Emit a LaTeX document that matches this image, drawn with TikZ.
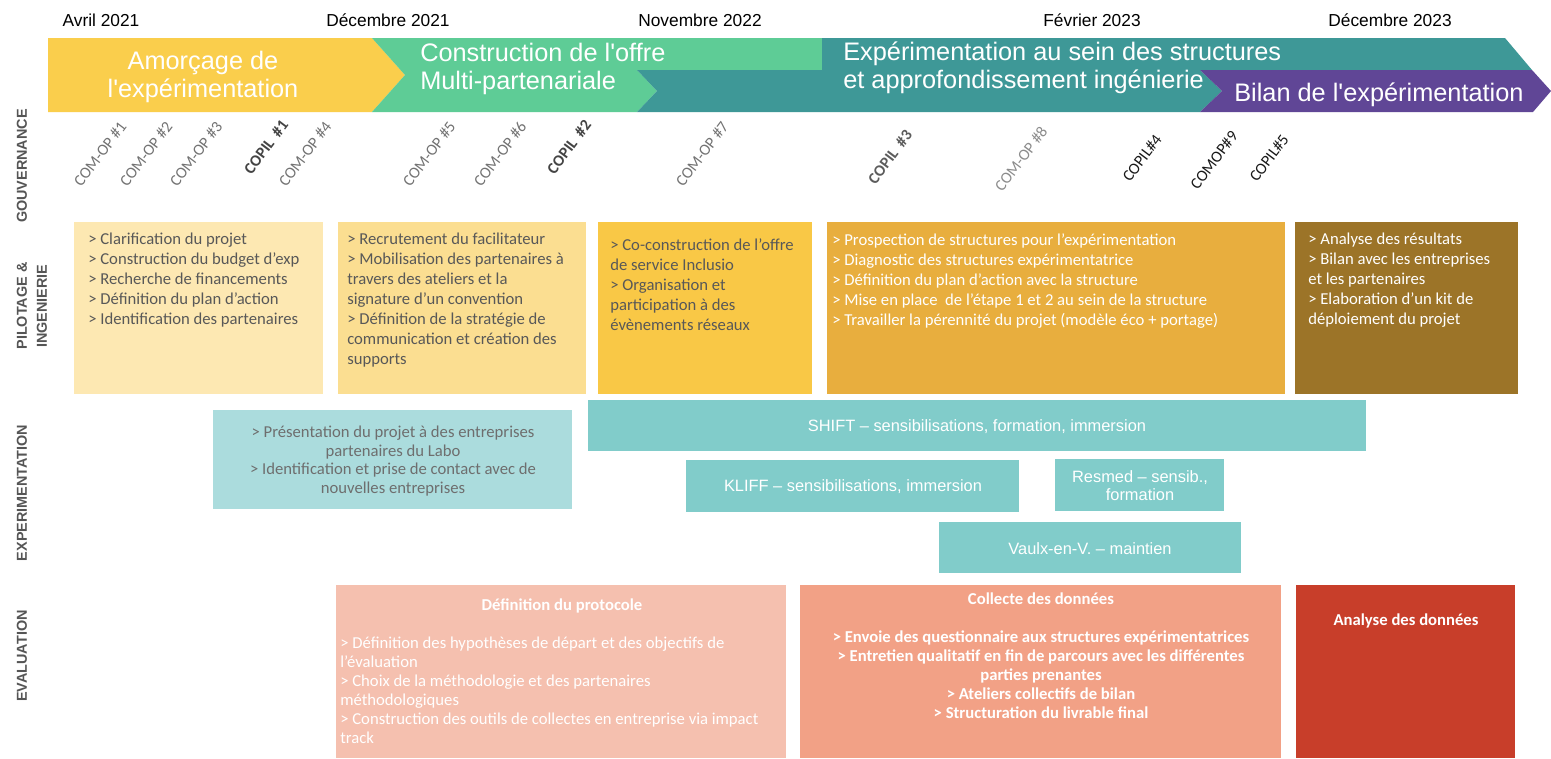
\documentclass[tikz,border=0pt]{standalone}
\usepackage{fontspec}
\setmainfont{Liberation Sans}
\newfontfamily\calib{Carlito}
\definecolor{bYel}{RGB}{250,206,76}
\definecolor{bGrn}{RGB}{94,204,150}
\definecolor{bTeal}{RGB}{62,152,151}
\definecolor{bPur}{RGB}{96,70,150}
\definecolor{p1}{RGB}{253,232,178}
\definecolor{p2}{RGB}{251,222,145}
\definecolor{p3}{RGB}{249,200,70}
\definecolor{p4}{RGB}{232,174,62}
\definecolor{p5}{RGB}{156,116,40}
\definecolor{eA}{RGB}{171,220,221}
\definecolor{eB}{RGB}{129,204,202}
\definecolor{v1}{RGB}{245,192,175}
\definecolor{v2}{RGB}{242,161,134}
\definecolor{v3}{RGB}{200,62,42}
\definecolor{govgray}{RGB}{115,115,115}
\definecolor{govdark}{RGB}{68,68,68}
\definecolor{govlight}{RGB}{140,140,140}
\definecolor{govblack}{RGB}{25,25,25}
\definecolor{labgray}{RGB}{85,85,85}
\definecolor{txtgray}{RGB}{88,88,88}
\definecolor{expgray}{RGB}{110,110,110}
\tikzset{
  btxt/.style={text=white, inner sep=0pt, font=\fontsize{19}{20.8}\selectfont},
  datelab/.style={inner sep=0pt, font=\fontsize{13}{15}\selectfont},
  gov/.style={rotate=53, inner sep=0pt, text=govgray, font=\calib\fontsize{12}{14}\selectfont},
  govb/.style={gov, text=govdark, font=\calib\bfseries\fontsize{12}{14}\selectfont},
  rowlab/.style={rotate=90, inner sep=0pt, align=center, text=labgray, font=\bfseries\fontsize{10.8}{15}\selectfont},
  ptxt/.style={anchor=north west, align=left, inner sep=0pt, font=\calib\fontsize{12.5}{15}\selectfont},
  etxt/.style={align=center, inner sep=0pt, text=expgray, font=\calib\fontsize{12.5}{14}\selectfont},
  stxt/.style={align=center, inner sep=0pt, text=white, font=\fontsize{12.3}{13.5}\selectfont},
  vtxt/.style={inner sep=0pt, text=white, font=\calib\fontsize{12.5}{14.25}\selectfont},
  vtxtb/.style={vtxt, font=\calib\bfseries\fontsize{12.5}{14.25}\selectfont},
}
\begin{document}
\begin{tikzpicture}[x=0.75pt,y=-0.75pt]
\useasboundingbox (0,0) rectangle (1551,758);
\fill[white] (0,0) rectangle (1551,758);
% banner
\fill[bYel] (48,38) -- (372,38) -- (405,75) -- (372,112) -- (48,112) -- cycle;
\fill[bGrn] (372,38) -- (822,38) -- (822,70) -- (637,70) -- (657,91) -- (637,112) -- (372,112) -- (405,75) -- cycle;
\fill[bTeal] (822,38) -- (1505,38) -- (1532,70) -- (1200,70) -- (1222,91) -- (1200,112) -- (637,112) -- (657,91) -- (637,70) -- (822,70) -- cycle;
\fill[bPur] (1200,70) -- (1532,70) -- (1551,91) -- (1533,112) -- (1200,112) -- (1222,91) -- cycle;
\node[btxt, align=center] (ph1) at (203,77) {Amorçage de\\l\textquotesingle expérimentation};
\node[btxt, align=left, anchor=west] (ph2) at (420,69) {Construction de l\textquotesingle offre\\Multi-partenariale};
\node[btxt, align=left, anchor=west] (ph3) at (843,68) {Expérimentation au sein des structures\\et approfondissement ingénierie};
\node[btxt, anchor=west] (ph4) at (1234,95) {Bilan de l\textquotesingle expérimentation};
% dates
\node[datelab] (d1) at (101,20) {Avril 2021};
\node[datelab] (d2) at (388,20) {Décembre 2021};
\node[datelab] (d3) at (700,20) {Novembre 2022};
\node[datelab] (d4) at (1092,20) {Février 2023};
\node[datelab] (d5) at (1390,20) {Décembre 2023};
% row labels
\node[rowlab] (r1) at (22,166) {GOUVERNANCE};
\node[rowlab] (r2) at (32,306) {PILOTAGE \&\\INGENIERIE};
\node[rowlab] (r3) at (22,493) {EXPERIMENTATION};
\node[rowlab] (r4) at (22,656) {EVALUATION};
% governance
\node[gov] (g1) at (100,154) {COM-OP \#1};
\node[gov] (g2) at (146,154) {COM-OP \#2};
\node[gov] (g3) at (196,154) {COM-OP \#3};
\node[govb] (g4) at (266,147) {COPIL\ \ \#1};
\node[gov] (g5) at (305,154) {COM-OP \#4};
\node[gov] (g6) at (429,154) {COM-OP \#5};
\node[gov] (g7) at (500,154) {COM-OP \#6};
\node[govb] (g8) at (569,147) {COPIL\ \ \#2};
\node[gov] (g9) at (702,154) {COM-OP \#7};
\node[govb, text=govgray!80!black] (g10) at (890,157) {COPIL\ \ \#3};
\node[gov, text=govlight] (g11) at (1021,159) {COM-OP \#8};
\node[gov, text=govblack] (g12) at (1142,158) {COPIL\#4};
\node[gov, text=govblack] (g13) at (1214,160) {COMOP\#9};
\node[gov, text=govblack] (g14) at (1269,158) {COPIL\#5};
% pilotage
\fill[p1] (74,222) rectangle (323,394);
\fill[p2] (338,222) rectangle (586,394);
\fill[p3] (598,222) rectangle (812,394);
\fill[p4] (827,222) rectangle (1285,394);
\fill[p5] (1295,222) rectangle (1518,394);
\node[ptxt, text=txtgray] (pt1) at (88,233) {> Clarification du projet\\> Construction du budget d’exp\\> Recherche de financements\\> Définition du plan d’action\\> Identification des partenaires};
\node[ptxt, text=txtgray] (pt2) at (347,233) {> Recrutement du facilitateur\\> Mobilisation des partenaires à\\travers des ateliers et la\\signature d’un convention\\> Définition de la stratégie de\\communication et création des\\supports};
\node[ptxt, text=txtgray] (pt3) at (610,238) {> Co-construction de l’offre\\de service Inclusio\\> Organisation et\\participation à des\\évènements réseaux};
\node[ptxt, text=white] (pt4) at (832,233) {> Prospection de structures pour l’expérimentation\\> Diagnostic des structures expérimentatrice\\> Définition du plan d’action avec la structure\\> Mise en place\ \ de l’étape 1 et 2 au sein de la structure\\> Travailler la pérennité du projet (modèle éco + portage)};
\node[ptxt, text=white] (pt5) at (1308,233) {> Analyse des résultats\\> Bilan avec les entreprises\\et les partenaires\\> Elaboration d’un kit de\\déploiement du projet};
% experimentation
\fill[eA] (213,410) rectangle (572,509);
\fill[eB] (588,400) rectangle (1366,451);
\fill[eB] (686,460) rectangle (1019,512);
\fill[eB] (1055,459) rectangle (1224,511);
\fill[eB] (939,522) rectangle (1241,573);
\node[etxt] (ex1) at (393,461) {> Présentation du projet à des entreprises\\partenaires du Labo\\> Identification et prise de contact avec de\\nouvelles entreprises};
\node[stxt] (ex2) at (977,427) {SHIFT – sensibilisations, formation, immersion};
\node[stxt] (ex3) at (853,487) {KLIFF – sensibilisations, immersion};
\node[stxt] (ex4) at (1140,486) {Resmed – sensib.,\\formation};
\node[stxt] (ex5) at (1090,549) {Vaulx-en-V. – maintien};
% evaluation
\fill[v1] (336,585) rectangle (786,758);
\fill[v2] (800,585) rectangle (1281,758);
\fill[v3] (1296,585) rectangle (1515,758);
\node[vtxtb] (ev1t) at (562,606) {Définition du protocole};
\node[vtxt, anchor=north west, align=left] (ev1) at (340,637) {> Définition des hypothèses de départ et des objectifs de\\l’évaluation\\> Choix de la méthodologie et des partenaires\\méthodologiques\\> Construction des outils de collectes en entreprise via impact\\track};
\node[vtxtb] (ev2t) at (1041,599) {Collecte des données};
\node[vtxtb, anchor=north, align=center] (ev2) at (1041,630) {> Envoie des questionnaire aux structures expérimentatrices\\> Entretien qualitatif en fin de parcours avec les différentes\\parties prenantes\\> Ateliers collectifs de bilan\\> Structuration du livrable final};
\node[vtxtb] (ev3t) at (1406,621) {Analyse des données};
\end{tikzpicture}
\end{document}
